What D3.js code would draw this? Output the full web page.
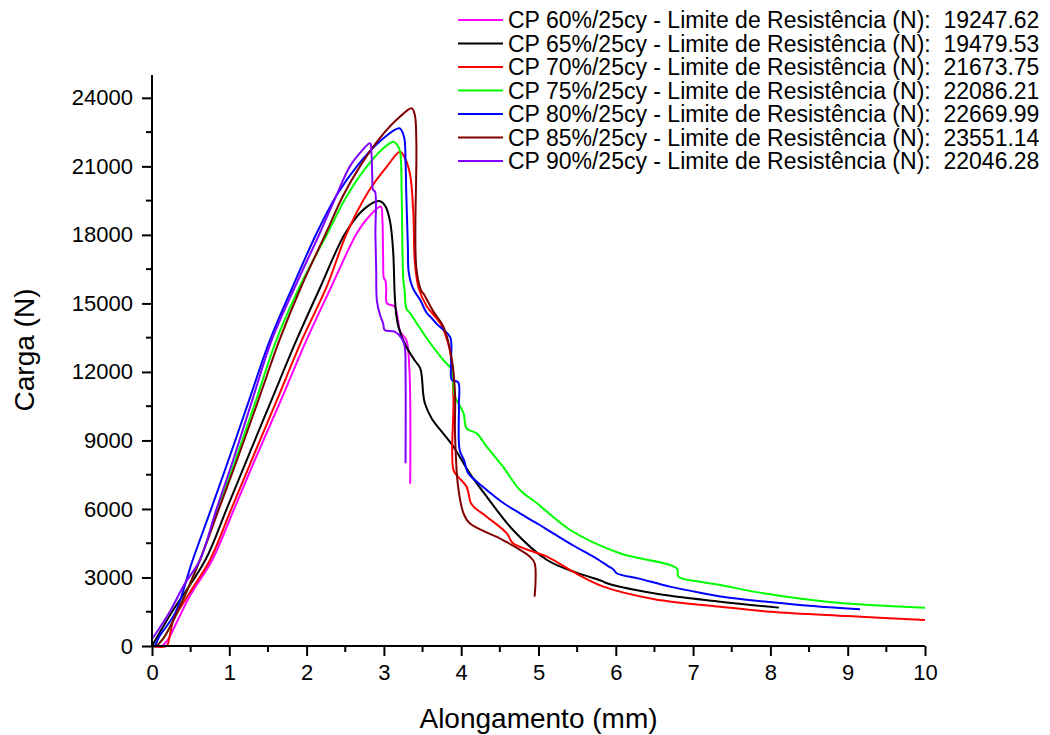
<!DOCTYPE html>
<html>
<head>
<meta charset="utf-8">
<script src="https://cdn.jsdelivr.net/npm/d3@7"></script>
<style>
  html, body { margin: 0; padding: 0; background: #fff; }
  svg { display: block; font-family: "Liberation Sans", Arial, sans-serif; }
  text { white-space: pre; }
</style>
</head>
<body>
<svg id="chart" width="1050" height="735"></svg>
<script>
// ---------- data ----------
const seriesNames = ["CP 60%/25cy", "CP 65%/25cy", "CP 70%/25cy", "CP 75%/25cy", "CP 80%/25cy", "CP 85%/25cy", "CP 90%/25cy"];
const ultimateLoads = ["19247.62", "19479.53", "21673.75", "22086.21", "22669.99", "23551.14", "22046.28"];
const xTicks = [0, 1, 2, 3, 4, 5, 6, 7, 8, 9, 10];
const yTicks = [0, 3000, 6000, 9000, 12000, 15000, 18000, 21000, 24000];

// [alongamento (mm), carga (N)]
const cp60 = [[0,0],[0.12,0],[0.2,250],[0.3,900],[0.5,2250],[0.78,3765],[1.05,5900],[1.33,8143],[1.66,10700],[2.0,13400],[2.32,15730],[2.65,18070],[2.82,18850],[2.96,19240],[2.98,18700],[2.99,17000],[3.0,16100],[3.02,16000],[3.03,15660],[3.04,15000],[3.14,14860],[3.18,14300],[3.21,13760],[3.29,13400],[3.33,12085],[3.34,7100]];
const cp65 = [[0,0],[0.05,300],[0.27,1550],[0.69,3765],[0.96,5950],[1.225,8143],[1.55,10800],[1.87,13400],[2.18,15730],[2.5,18070],[2.75,19150],[2.94,19480],[3.02,19250],[3.08,18580],[3.12,17260],[3.14,15370],[3.16,14500],[3.19,13950],[3.29,13100],[3.40,12500],[3.47,12160],[3.51,11000],[3.53,10625],[3.62,9950],[3.73,9460],[3.9,8725],[4.11,7560],[4.33,6540],[4.67,5080],[5.11,3765],[5.5,3200],[5.82,2850],[5.86,2780],[6.49,2305],[7.35,1940],[8.11,1680]];
const cp70 = [[0,0],[0.19,0],[0.22,300],[0.28,1140],[0.5,2400],[0.75,3765],[1.02,5950],[1.29,8143],[1.62,10800],[1.94,13400],[2.26,15730],[2.52,18070],[2.8,19900],[3.04,21000],[3.21,21640],[3.28,21300],[3.34,20620],[3.38,19015],[3.40,16825],[3.45,15660],[3.55,14900],[3.73,14130],[3.79,13690],[3.85,13000],[3.88,12230],[3.90,10770],[3.90,7700],[3.96,7410],[4.07,6975],[4.12,6300],[4.16,6100],[4.33,5660],[4.59,4935],[4.67,4495],[5.11,3910],[5.5,3150],[5.84,2600],[6.5,2050],[7.35,1720],[8,1500],[9,1310],[10,1140]];
const cp75 = [[0,0],[0.05,0],[0.15,350],[0.3,1300],[0.62,3765],[0.85,5950],[1.08,8143],[1.35,10800],[1.61,13400],[1.91,15730],[2.27,18070],[2.52,19700],[2.78,21000],[2.98,21750],[3.12,22080],[3.18,21900],[3.21,21640],[3.23,19745],[3.25,16100],[3.27,15500],[3.29,14785],[3.34,14565],[3.47,13900],[3.60,13255],[3.77,12520],[3.88,12085],[3.90,11350],[3.92,10915],[4.03,10190],[4.07,9530],[4.2,9310],[4.33,8725],[4.54,7850],[4.76,6830],[4.98,6250],[5.41,5080],[6.05,4060],[6.79,3400],[6.81,3035],[7.09,2815],[7.35,2670],[7.91,2305],[8.73,1940],[10,1680]];
const cp80 = [[0,0],[0.03,0],[0.1,450],[0.3,1450],[0.52,3700],[0.76,5950],[0.99,8143],[1.26,10800],[1.527,13400],[1.82,15730],[2.13,18070],[2.4,19800],[2.65,21000],[2.95,22100],[3.2,22665],[3.26,22300],[3.28,21200],[3.29,19745],[3.31,17500],[3.32,16390],[3.36,15800],[3.40,15510],[3.47,15150],[3.55,14600],[3.60,14420],[3.70,14050],[3.77,13850],[3.86,13500],[3.87,12500],[3.88,11645],[3.96,11550],[3.97,10500],[3.98,8580],[4.04,8100],[4.09,7560],[4.2,7200],[4.33,6830],[4.55,6250],[4.76,5810],[5.0,5330],[5.19,4935],[5.45,4400],[5.71,3910],[5.9,3500],[5.97,3350],[6.01,3185],[6.3,2950],[6.7,2600],[7.09,2335],[7.5,2100],[7.95,1940],[8.5,1760],[9.16,1605]];
const cp85 = [[0,0],[0.05,0],[0.15,350],[0.3,1300],[0.62,3765],[0.86,5950],[1.10,8143],[1.38,10800],[1.65,13400],[1.93,15730],[2.25,18070],[2.47,19700],[2.69,21000],[2.95,22250],[3.21,23180],[3.36,23540],[3.40,23250],[3.42,22000],[3.42,16535],[3.49,15510],[3.51,15440],[3.64,14640],[3.77,13980],[3.88,12520],[3.92,11060],[3.92,9310],[3.96,6975],[4.03,5810],[4.11,5370],[4.54,4640],[4.89,3910],[4.95,3620],[4.95,2160]];
const cp90 = [[0,300],[0.1,800],[0.23,1500],[0.42,2700],[0.62,3765],[0.83,5950],[1.05,8143],[1.3,10800],[1.55,13400],[1.85,15730],[2.17,18070],[2.37,19600],[2.56,21000],[2.72,21700],[2.82,22010],[2.84,21500],[2.85,20500],[2.86,19965],[2.885,19900],[2.89,18000],[2.9,16500],[2.91,15100],[2.95,14490],[2.99,14130],[3.01,13835],[3.14,13760],[3.23,13470],[3.27,13100],[3.28,12000],[3.28,8000]];

const allSeries = [cp60, cp65, cp70, cp75, cp80, cp85, cp90];
const colors = ["#ff00ff", "#000000", "#ff0000", "#00ff00", "#0000ff", "#800000", "#8000ff"];

// ---------- layout ----------
const svg = d3.select("#chart");
const x = d3.scaleLinear().domain([0, 10]).range([152, 925]);
const y = d3.scaleLinear().domain([0, 25000]).range([646, 75]);

// series
const line = d3.line().x(d => x(d[0])).y(d => y(d[1])).curve(d3.curveCatmullRom.alpha(0.5));
svg.append("g").selectAll("path").data(allSeries).join("path")
  .attr("d", line)
  .attr("fill", "none")
  .attr("stroke", (d, i) => colors[i])
  .attr("stroke-width", 2)
  .attr("stroke-linejoin", "round");

// axes
const xMinor = d3.range(0.5, 10, 1);
const yMinor = d3.range(1500, 25000, 3000);

const xAxis = svg.append("g").attr("transform", "translate(0,646)");
xAxis.call(d3.axisBottom(x).tickValues(xTicks).tickFormat(d3.format("d")).tickSize(10).tickPadding(8));
xAxis.append("g").selectAll("line").data(xMinor).join("line")
  .attr("x1", d => x(d)).attr("x2", d => x(d)).attr("y1", 0).attr("y2", 6)
  .attr("stroke", "#000").attr("stroke-width", 2);

const yAxis = svg.append("g").attr("transform", "translate(152,0)");
yAxis.call(d3.axisLeft(y).tickValues(yTicks).tickFormat(d3.format("d")).tickSize(10).tickPadding(9));
yAxis.append("g").selectAll("line").data(yMinor).join("line")
  .attr("y1", d => y(d)).attr("y2", d => y(d)).attr("x1", 0).attr("x2", -6)
  .attr("stroke", "#000").attr("stroke-width", 2);

[xAxis, yAxis].forEach(g => {
  g.select(".domain").attr("stroke", "#000").attr("stroke-width", 2);
  g.selectAll(".tick line").attr("stroke", "#000").attr("stroke-width", 2);
  g.selectAll(".tick text").attr("font-size", 22).attr("font-family", "Liberation Sans, Arial, sans-serif").attr("fill", "#000");
});
yAxis.select(".domain").attr("d", "M0," + y(25000) + "V" + y(0));
xAxis.select(".domain").attr("d", "M" + x(0) + ",0H" + x(10));

// axis titles
svg.append("text")
  .attr("x", x(5)).attr("y", 728)
  .attr("text-anchor", "middle").attr("font-size", 28).attr("fill", "#000")
  .text("Alongamento (mm)");
svg.append("text")
  .attr("transform", "translate(34,350) rotate(-90)")
  .attr("text-anchor", "middle").attr("font-size", 28).attr("fill", "#000")
  .text("Carga (N)");

// legend
const legend = svg.append("g");
const rows = legend.selectAll("g").data(seriesNames).join("g")
  .attr("transform", (d, i) => "translate(0," + (20 + i * 23.5) + ")");
rows.append("line")
  .attr("x1", 458).attr("x2", 503).attr("y1", 0).attr("y2", 0)
  .attr("stroke", (d, i) => colors[i]).attr("stroke-width", 2);
rows.append("text")
  .attr("x", 508).attr("y", 8)
  .attr("font-size", 23).attr("fill", "#000")
  .text((d, i) => d + " - Limite de Resistência (N):  " + ultimateLoads[i]);
</script>
</body>
</html>
